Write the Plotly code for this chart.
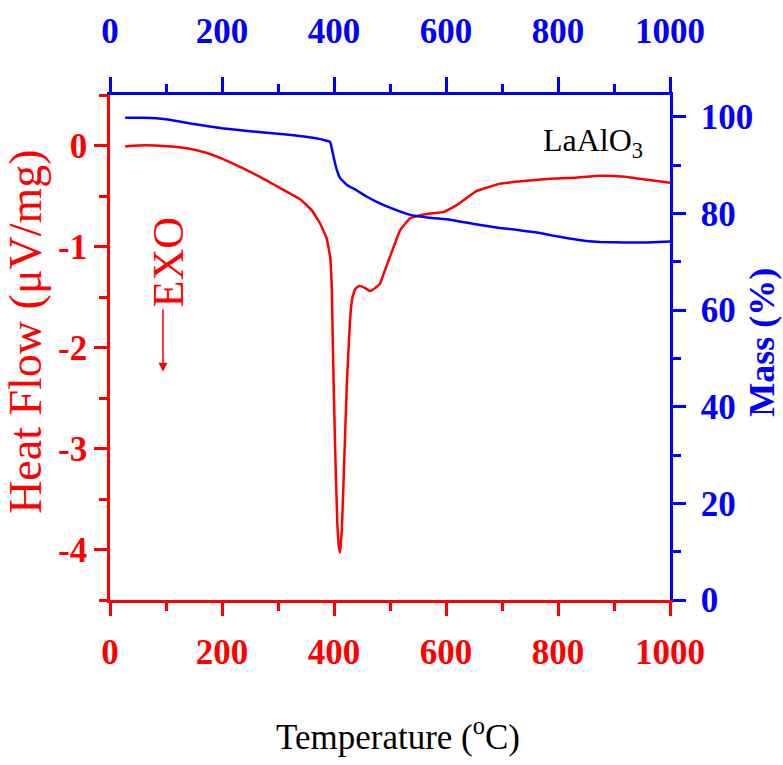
import plotly.graph_objects as go

# Heat flow (DTA) curve, red, left axis
temp_hf = [27, 50, 80, 110, 140, 170, 200, 235, 268, 300, 339, 360, 375, 387, 393, 396, 398, 402,
           406, 409, 411, 414, 417, 423, 429, 433, 438, 445, 455, 464, 476, 482, 490, 500, 518,
           536, 554, 575, 595, 619, 655, 696, 744, 786, 830, 875, 920, 960, 1000]
heat_flow = [-0.01, 0.0, 0.0, -0.01, -0.03, -0.07, -0.13, -0.22, -0.31, -0.41, -0.53, -0.64, -0.77,
             -0.92, -1.1, -1.4, -2.0, -3.0, -3.75, -3.98, -4.03, -3.8, -3.34, -2.35, -1.70, -1.50,
             -1.42, -1.39, -1.41, -1.44, -1.40, -1.37, -1.25, -1.10, -0.84, -0.72, -0.69, -0.67,
             -0.66, -0.59, -0.45, -0.38, -0.35, -0.33, -0.32, -0.30, -0.31, -0.34, -0.37]

# Mass (TGA) curve, blue, right axis
temp_mass = [27, 60, 100, 150, 200, 250, 300, 339, 370, 385, 393, 396, 399, 405, 411, 423, 440,
             458, 480, 500, 536, 570, 607, 650, 696, 732, 760, 786, 820, 850, 875, 920, 960, 1000]
mass = [99.8, 99.8, 99.5, 98.5, 97.6, 97.0, 96.5, 96.0, 95.5, 95.1, 94.8, 93.5, 91.8, 89.0, 87.3,
        85.9, 84.8, 83.5, 82.2, 81.2, 79.7, 79.1, 78.7, 77.8, 77.0, 76.5, 76.1, 75.5, 74.8, 74.3,
        74.1, 74.0, 74.0, 74.2]

x_ticks = [0, 200, 400, 600, 800, 1000]
hf_ticks = [0, -1, -2, -3, -4]
mass_ticks = [0, 20, 40, 60, 80, 100]

RED = "#ff0000"
BLUE = "#0000ff"
FONT = "Liberation Serif"

fig = go.Figure()
fig.add_trace(go.Scatter(x=temp_hf, y=heat_flow, mode="lines",
                         line=dict(color=RED, width=2.5, shape="spline", smoothing=0.3),
                         xaxis="x", yaxis="y", showlegend=False))
fig.add_trace(go.Scatter(x=temp_mass, y=mass, mode="lines",
                         line=dict(color=BLUE, width=2.5, shape="spline", smoothing=0.3),
                         xaxis="x2", yaxis="y2", showlegend=False))

tickfont_red = dict(family=FONT, size=35, color=RED, weight="bold")
tickfont_blue = dict(family=FONT, size=35, color=BLUE, weight="bold")

fig.update_layout(
    width=783, height=765,
    margin=dict(l=110, r=113, t=95, b=165),
    plot_bgcolor="white", paper_bgcolor="white",
    xaxis=dict(range=[0, 1000], tickvals=x_ticks, ticks="outside", ticklen=13, tickwidth=2.5,
               tickcolor=RED, linecolor=RED, linewidth=2.5, showline=True, showgrid=False,
               zeroline=False, tickfont=tickfont_red, ticklabelstandoff=6,
               minor=dict(dtick=100, ticks="outside", ticklen=8, tickwidth=2.5, tickcolor=RED, showgrid=False)),
    xaxis2=dict(range=[0, 1000], tickvals=x_ticks, overlaying="x", side="top", anchor="y2",
                ticks="outside", ticklen=15, tickwidth=2.5, tickcolor=BLUE, linecolor=BLUE,
                linewidth=2.5, showline=True, showgrid=False, zeroline=False,
                tickfont=tickfont_blue, ticklabelstandoff=20,
                minor=dict(dtick=100, ticks="outside", ticklen=8, tickwidth=2.5, tickcolor=BLUE, showgrid=False)),
    yaxis=dict(range=[-4.5, 0.5], tickvals=hf_ticks, ticktext=[str(v) for v in hf_ticks],
               ticks="outside", ticklen=13, tickwidth=2.5, tickcolor=RED, linecolor=RED,
               linewidth=2.5, showline=True, showgrid=False, zeroline=False,
               tickfont=tickfont_red, ticklabelstandoff=0,
               minor=dict(tick0=0.5, dtick=0.5, ticks="outside", ticklen=8, tickwidth=2.5, tickcolor=RED, showgrid=False)),
    yaxis2=dict(range=[0, 104.5], tickvals=mass_ticks, overlaying="y", side="right", anchor="x2",
                ticks="outside", ticklen=13, tickwidth=2.5, tickcolor=BLUE, linecolor=BLUE,
                linewidth=2.5, showline=True, showgrid=False, zeroline=False,
                tickfont=tickfont_blue, ticklabelstandoff=8,
                minor=dict(dtick=10, ticks="outside", ticklen=8, tickwidth=2.5, tickcolor=BLUE, showgrid=False)),
)

annotations = [
    dict(text="Temperature (<sup>o</sup>C)", xref="paper", yref="paper", x=0.514, y=-0.267,
         xanchor="center", yanchor="middle", showarrow=False,
         font=dict(family=FONT, size=35, color="black")),
    dict(text="Heat Flow (\u03bcV/mg)", xref="paper", yref="paper", x=-0.15, y=0.531,
         xanchor="center", yanchor="middle", textangle=-90, showarrow=False,
         font=dict(family=FONT, size=46, color=RED)),
    dict(text="<b>Mass (%)</b>", xref="paper", yref="paper", x=1.164, y=0.511,
         xanchor="center", yanchor="middle", textangle=-90, showarrow=False,
         font=dict(family=FONT, size=36, color=BLUE)),
    dict(text="LaAlO<sub>3</sub>", xref="paper", yref="paper", x=0.77, y=0.905,
         xanchor="left", yanchor="middle", showarrow=False,
         font=dict(family=FONT, size=32, color="black")),
    dict(text="EXO", x=104, y=-1.155, xref="x", yref="y", textangle=-90, showarrow=False,
         xanchor="center", yanchor="middle", font=dict(family=FONT, size=44, color=RED)),
    dict(text="", x=94.6, y=-2.24, xref="x", yref="y", showarrow=True, ax=0, ay=-64,
         arrowhead=2, arrowsize=1.2, arrowwidth=1.5, arrowcolor=RED),
]
fig.update_layout(annotations=annotations)

fig.write_html("out.html")
